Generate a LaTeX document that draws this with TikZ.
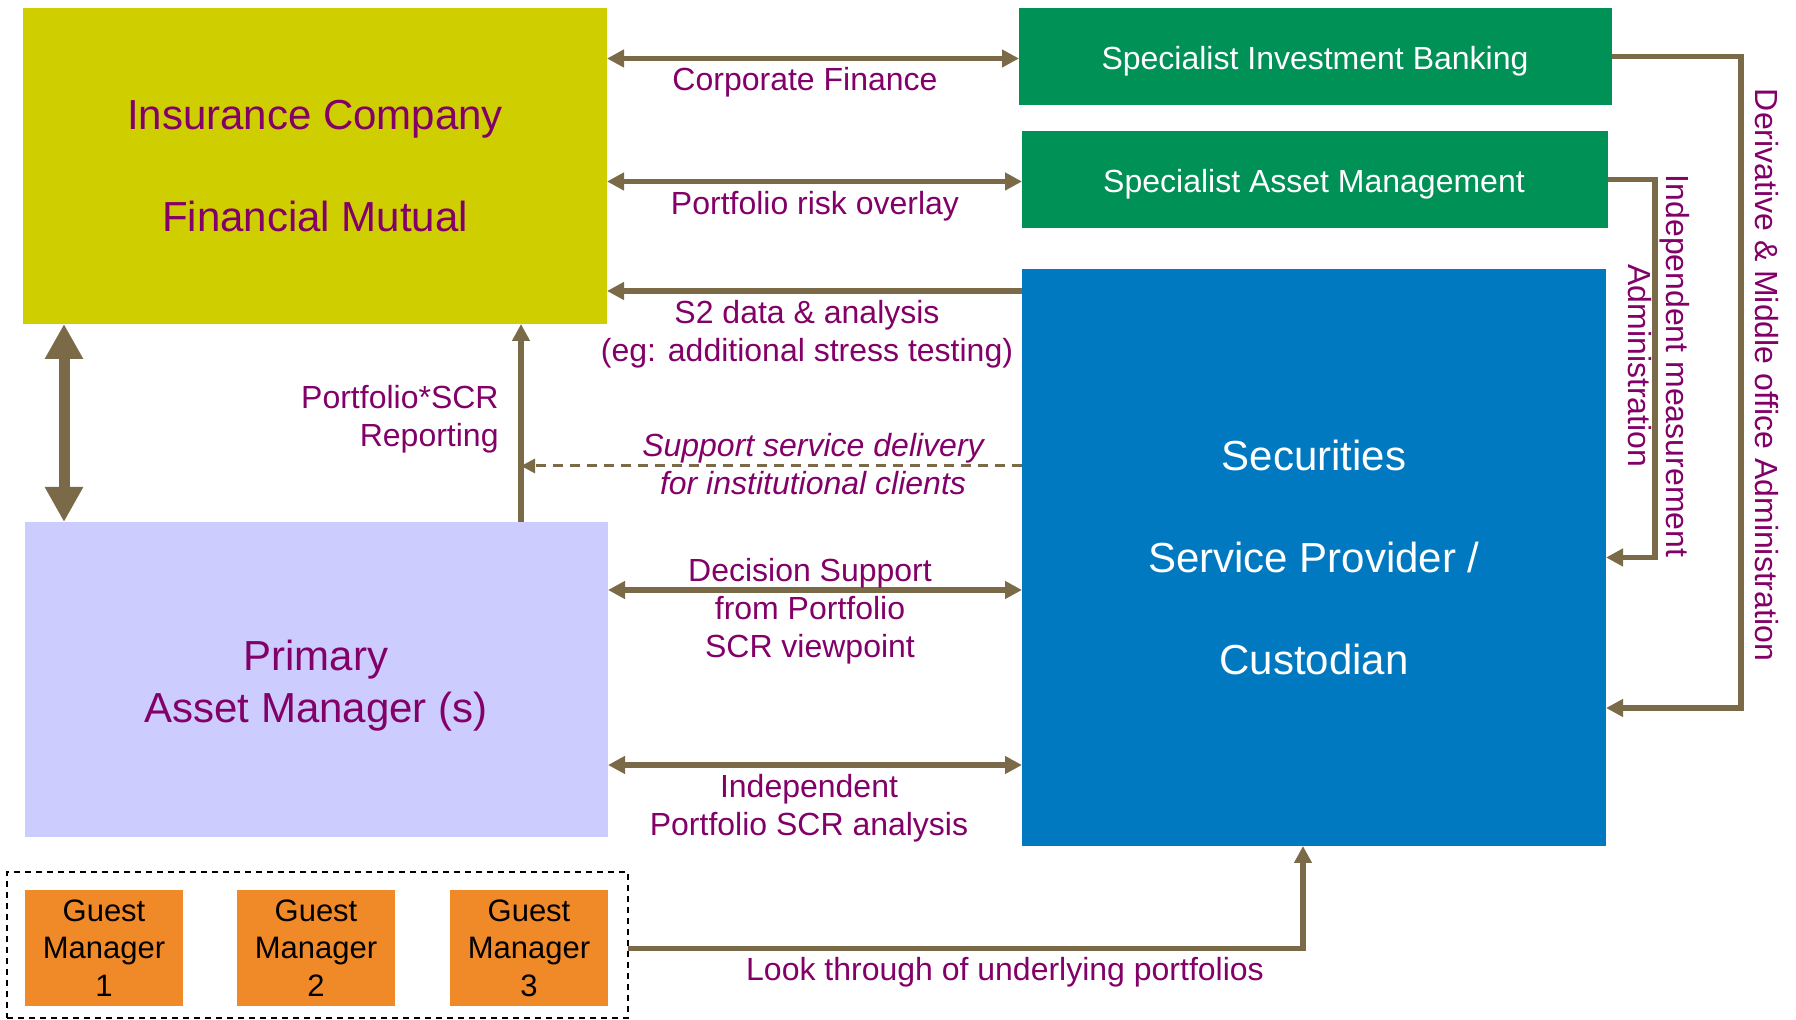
\documentclass[tikz,border=0pt]{standalone}
\usepackage{fontspec}
\setmainfont{Liberation Sans}
\usetikzlibrary{arrows.meta}

\definecolor{insyellow}{RGB}{206,206,0}
\definecolor{specgreen}{RGB}{0,145,87}
\definecolor{custblue}{RGB}{0,121,193}
\definecolor{amlavender}{RGB}{204,204,255}
\definecolor{guestorange}{RGB}{240,137,40}
\definecolor{labpurple}{RGB}{130,0,104}
\definecolor{linkbrown}{RGB}{122,106,72}

\begin{document}
\begin{tikzpicture}[x=0.5pt,y=-0.5pt,
  block/.style={rectangle, inner sep=0pt, outer sep=0pt, align=center},
  bigtext/.style={font=\fontsize{21}{51}\selectfont},
  lbl/.style={text=labpurple, font=\fontsize{16}{19}\selectfont, align=center, inner sep=0pt},
  guest/.style={block, fill=guestorange, minimum width=79pt, minimum height=58pt,
                font=\fontsize{15.5}{18.75}\selectfont, text=black},
  conn/.style={draw=linkbrown, line width=2.75pt, -{Triangle[length=8.5pt,width=8.5pt]}},
  dblconn/.style={draw=linkbrown, line width=2.75pt,
                  {Triangle[length=8.5pt,width=8.5pt]}-{Triangle[length=8.5pt,width=8.5pt]}},
  dashconn/.style={draw=linkbrown, line width=1.5pt, dash pattern=on 5pt off 3.5pt,
                   -{Triangle[length=7pt,width=7pt]}},
  bigconn/.style={draw=linkbrown, line width=5.5pt,
                  {Triangle[length=17.5pt,width=18pt]}-{Triangle[length=17.5pt,width=18pt]}}
]
\useasboundingbox (0,0) rectangle (1796,1020);

% ---- main blocks ----
\node[block, fill=insyellow, minimum width=292pt, minimum height=158pt,
      bigtext, text=labpurple] (ins) at (315,166)
      {Insurance Company\\Financial Mutual};
\node[block, fill=specgreen, minimum width=296.5pt, minimum height=48.5pt] (sib) at (1315.5,56.5) {};
\node[block, fill=specgreen, minimum width=293pt, minimum height=48.5pt] (sam) at (1315,179.5) {};
\node[block, fill=custblue, minimum width=292pt, minimum height=288.5pt,
      bigtext, text=white] (sec) at (1314,557.5)
      {Securities\\Service Provider /\\Custodian};
\node[block, fill=amlavender, minimum width=291.5pt, minimum height=157.5pt] (prim) at (316.5,679.5) {};

% ---- block captions ----
\node[lbl, text=white] (tsib) at (1315,61) {Specialist Investment Banking};
\node[lbl, text=white] (tsam) at (1314,184) {Specialist Asset Management};
\node[lbl, text=labpurple, font=\fontsize{21}{26}\selectfont] (tprim) at (316,686)
      {Primary\\Asset Manager (s)};

% ---- guest managers ----
\node[block, draw=black, line width=0.8pt, dash pattern=on 3pt off 2.5pt,
      minimum width=310.5pt, minimum height=73pt] (grp) at (317.5,945) {};
\node[guest] (g1) at (104,948) {Guest\\Manager\\1};
\node[guest] (g2) at (316,948) {Guest\\Manager\\2};
\node[guest] (g3) at (529,948) {Guest\\Manager\\3};

% ---- anchor points for connectors ----
\coordinate (cf) at ([yshift=-1pt]sib.west);
\coordinate (po) at ([yshift=-1pt]sam.west);
\coordinate (s2) at ([yshift=-11pt]sec.north west);
\coordinate (sd) at ([yshift=-98.5pt]sec.north west);
\coordinate (rep) at ([xshift=248pt]prim.north west);
\coordinate (ds) at ([yshift=-34pt]prim.north east);
\coordinate (ia) at ([yshift=-121.5pt]prim.north east);
\coordinate (lv) at ([xshift=20.5pt]ins.south west);
\coordinate (lt) at ([xshift=-5.5pt]sec.south);
\coordinate (gout) at ([yshift=-1.75pt]grp.east);
\coordinate (d1) at ([yshift=-75.25pt]sec.east);
\coordinate (r1) at (1741,0);
\coordinate (r2) at (1655,0);

% ---- connectors ----
\draw[dblconn] (cf -| ins.east) -- (cf);
\draw[dblconn] (po -| ins.east) -- (po);
\draw[conn] (s2) -- (s2 -| ins.east);
\draw[conn] (rep) -- (rep |- ins.south);
\draw[dashconn] (sd) -- (sd -| rep);
\draw[dblconn] (ds) -- (ds -| sec.west);
\draw[dblconn] (ia) -- (ia -| sec.west);
\draw[bigconn] (lv) -- (lv |- prim.north);
\draw[conn] (gout) -| (lt |- sec.south);
\draw[conn] (sib.east) -| (r1 |- d1) -- (d1);
\draw[conn] (sam.east) -| (r2 |- sec.east) -- (sec.east);

% ---- labels ----
\node[lbl] (lcf) at (805,82.5) {Corporate Finance};
\node[lbl] (lpr) at (815,206) {Portfolio risk overlay};
\node[lbl] (ls2) at (807,334.5) {S2 data \& analysis\\(eg: additional stress testing)};
\node[lbl, font=\fontsize{16}{19}\itshape] (lsup) at (813,464)
      {Support service delivery\\for institutional clients};
\node[lbl, align=right, anchor=east] (lrep) at (499,419.5) {Portfolio*SCR\\Reporting};
\node[lbl] (lds) at (810,611) {Decision Support\\from Portfolio\\SCR viewpoint};
\node[lbl] (lia) at (809,808.5) {Independent\\Portfolio SCR analysis};
\node[lbl] (llt) at (1005,972.5) {Look through of underlying portfolios};
\node[lbl, rotate=-90] (lder) at (1767,375) {Derivative \& Middle office Administration};
\node[lbl, rotate=-90] (lind) at (1659,366) {Independent measurement\\Administration};

\end{tikzpicture}
\end{document}
